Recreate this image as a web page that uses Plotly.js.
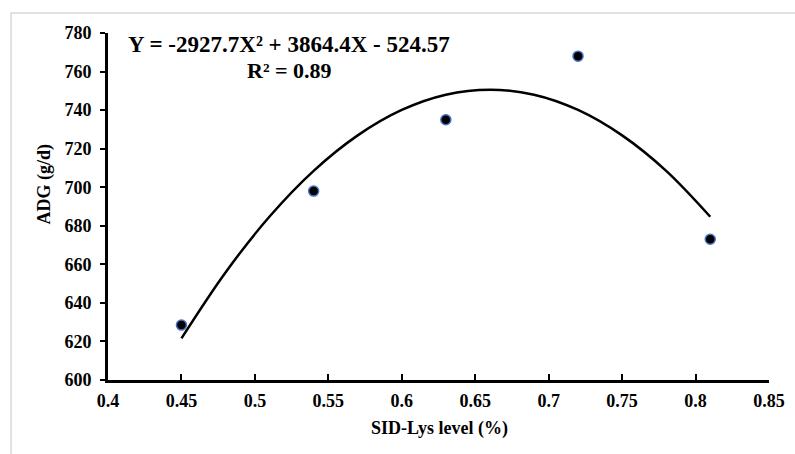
<!DOCTYPE html>
<html>
<head>
<meta charset="utf-8">
<script src="https://cdn.plot.ly/plotly-3.0.1.min.js"></script>
<style>
html, body { margin: 0; padding: 0; background: #fff; }
#chart { width: 795px; height: 454px; }
</style>
</head>
<body>
<div id="chart"></div>
<script>
// Observed data
const lysLevel = [0.45, 0.54, 0.63, 0.72, 0.81];
const adg = [628.5, 698, 735, 768, 673];

// Trend curve (polynomial trendline)
const trendX = [0.45, 0.48, 0.51, 0.54, 0.57, 0.60, 0.63, 0.66, 0.69, 0.72, 0.75, 0.78, 0.81];
const trendY = [621.6, 655.8, 684.8, 708.5, 726.9, 740.1, 748.0, 750.6, 748.0, 740.1, 726.9, 708.5, 684.7];

const xTicks = [0.4, 0.45, 0.5, 0.55, 0.6, 0.65, 0.7, 0.75, 0.8, 0.85];
const xTickText = ["0.4", "0.45", "0.5", "0.55", "0.6", "0.65", "0.7", "0.75", "0.8", "0.85"];
const yTicks = [600, 620, 640, 660, 680, 700, 720, 740, 760, 780];

const equationText = "Y = -2927.7X² + 3864.4X - 524.57";
const r2Text = "R² = 0.89";
const xTitle = "SID-Lys level (%)";
const yTitle = "ADG (g/d)";

const FONT = "'Liberation Serif', 'Times New Roman', serif";

const traces = [
  {
    x: trendX, y: trendY, type: 'scatter', mode: 'lines',
    line: { color: '#000', width: 2.5, shape: 'spline' },
    hoverinfo: 'skip', showlegend: false
  },
  {
    x: lysLevel, y: adg, type: 'scatter', mode: 'markers',
    marker: { color: '#000', size: 10, line: { color: '#4472c4', width: 1.5 } },
    showlegend: false
  }
];

const layout = {
  width: 795, height: 454,
  margin: { l: 108, r: 25.5, t: 33, b: 74, pad: 0 },
  paper_bgcolor: '#fff', plot_bgcolor: '#fff',
  font: { family: FONT, color: '#000', size: 18, weight: 'bold' },
  showlegend: false,
  xaxis: {
    range: [0.4, 0.85], tickmode: 'array', tickvals: xTicks, ticktext: xTickText,
    showgrid: false, zeroline: false,
    showline: true, linecolor: '#000', linewidth: 3,
    ticks: 'inside', ticklen: 6, tickwidth: 2, tickcolor: '#000',
    tickfont: { family: FONT, size: 18, color: '#000', weight: 'bold' },
    ticklabelstandoff: 2
  },
  yaxis: {
    range: [600, 780], tickmode: 'array', tickvals: yTicks,
    showgrid: false, zeroline: false,
    showline: true, linecolor: '#000', linewidth: 3,
    ticks: 'outside', ticklen: 5, tickwidth: 2, tickcolor: '#000',
    tickfont: { family: FONT, size: 18, color: '#000', weight: 'bold' },
    ticklabelstandoff: 5
  },
  annotations: [
    { text: equationText, xref: 'paper', yref: 'paper', x: 0.274, y: 0.968,
      xanchor: 'center', yanchor: 'middle', showarrow: false,
      font: { family: FONT, size: 23, color: '#000', weight: 'bold' } },
    { text: r2Text, xref: 'paper', yref: 'paper', x: 0.274, y: 0.892,
      xanchor: 'center', yanchor: 'middle', showarrow: false,
      font: { family: FONT, size: 22, color: '#000', weight: 'bold' } },
    { text: xTitle, xref: 'paper', yref: 'paper', x: 0.502, y: -0.141,
      xanchor: 'center', yanchor: 'middle', showarrow: false,
      font: { family: FONT, size: 18, color: '#000', weight: 'bold' } },
    { text: yTitle, xref: 'paper', yref: 'paper', x: -0.096, y: 0.565,
      xanchor: 'center', yanchor: 'middle', showarrow: false, textangle: -90,
      font: { family: FONT, size: 18, color: '#000', weight: 'bold' } }
  ],
  shapes: [
    { type: 'rect', xref: 'paper', yref: 'paper', layer: 'below',
      x0: (11 - 108) / 661.5, x1: (800 - 108) / 661.5,
      y0: (380 - 470) / 347, y1: (380 - 13) / 347,
      line: { color: '#d9d9d9', width: 1.5 }, fillcolor: 'rgba(0,0,0,0)' }
  ]
};

Plotly.newPlot('chart', traces, layout, { displayModeBar: false, staticPlot: true });
</script>
</body>
</html>
